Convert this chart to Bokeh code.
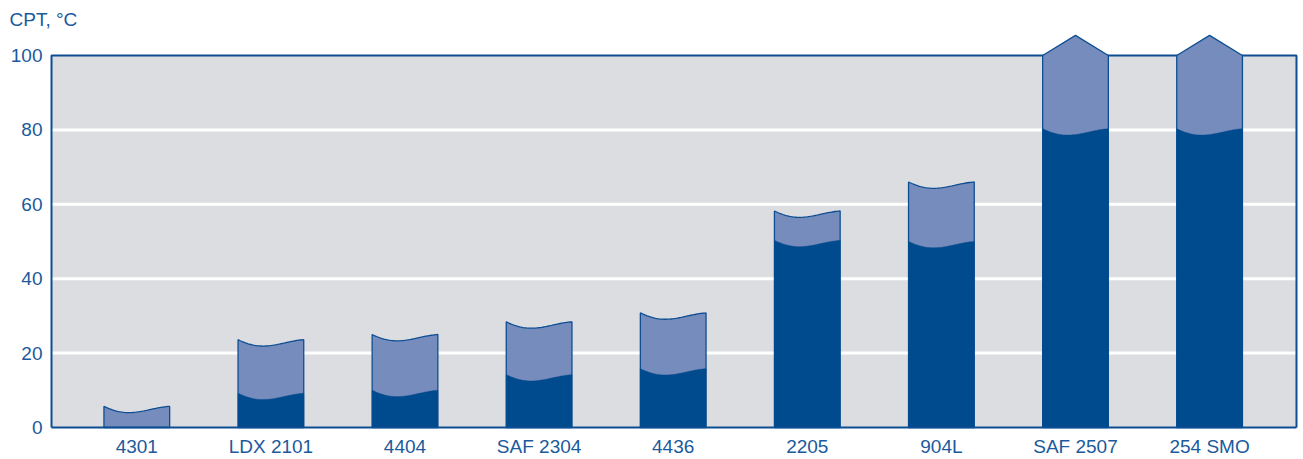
import numpy as np
from bokeh.plotting import figure
from bokeh.models import FixedTicker, Range1d
from bokeh.embed import file_html
from bokeh.resources import INLINE

# ---- data ----
grades = ["4301", "LDX 2101", "4404", "SAF 2304", "4436", "2205", "904L", "SAF 2507", "254 SMO"]
cpt_upper = [5.7, 23.6, 25.0, 28.4, 30.8, 58.2, 66.0, 100.0, 100.0]
cpt_lower = [0.0, 9.2, 10.0, 14.2, 15.8, 50.3, 50.0, 80.3, 80.3]
exceeds = [False, False, False, False, False, False, False, True, True]
y_ticks = [0, 20, 40, 60, 80, 100]
y_title = "CPT, °C"

# ---- style ----
FONT = "Liberation Sans"
TXT = "#1b5a9b"
DARK = "#004b8d"
LIGHT = "#768cbd"
GREY = "#dcdde0"
EDGE = "#0d4e93"
BAR_W = 0.49
WAVE_A = 2.7
ARROW_H = 5.4
BOX_L, BOX_R = -0.636, 8.648
YMAX = y_ticks[-1]

p = figure(width=1303, height=459, output_backend="svg", toolbar_location=None,
           x_range=Range1d(-0.651, 8.663), y_range=Range1d(-0.54, 106.18),
           min_border_left=49, min_border_right=5, min_border_top=32, min_border_bottom=30,
           title=y_title)
p.outline_line_color = None
p.background_fill_color = "white"
p.border_fill_color = "white"
p.xgrid.visible = False
p.ygrid.visible = False

p.title.align = "left"
p.title.offset = -40
p.title.standoff = 6
p.title.text_font = FONT
p.title.text_font_size = "19px"
p.title.text_font_style = "normal"
p.title.text_color = TXT

# grey plotting box
p.quad(left=[BOX_L], right=[BOX_R], bottom=[0], top=[YMAX], fill_color=GREY, line_color=None)
# white grid lines
gy = [t for t in y_ticks if 0 < t < YMAX]
p.segment(x0=[BOX_L] * len(gy), x1=[BOX_R] * len(gy), y0=gy, y1=gy, line_color="white", line_width=3)
# box border (left, top, right)
p.line(x=[BOX_L, BOX_L, BOX_R, BOX_R], y=[0, YMAX, YMAX, 0], line_color=EDGE, line_width=2)


def wave(c, v):
    t = np.linspace(0, 1, 40)
    xs = c - BAR_W / 2 + BAR_W * t
    ys = v - WAVE_A * np.sin(np.pi * t) * (1 - 0.844 * t)
    return list(xs), list(ys)


lxs, lys, dxs, dys = [], [], [], []
for i, (u, lo, ex) in enumerate(zip(cpt_upper, cpt_lower, exceeds)):
    xl, xr = i - BAR_W / 2, i + BAR_W / 2
    if ex:
        lxs.append([xl, xl, i, xr, xr])
        lys.append([0, u, u + ARROW_H, u, 0])
    else:
        wx, wy = wave(i, u)
        lxs.append([xl] + wx + [xr])
        lys.append([0] + wy + [0])
    if lo > 0:
        wx, wy = wave(i, lo)
        dxs.append([xl] + wx + [xr])
        dys.append([0] + wy + [0])

p.patches(xs=lxs, ys=lys, fill_color=LIGHT, line_color=EDGE, line_width=1.3)
p.patches(xs=dxs, ys=dys, fill_color=DARK, line_color=DARK, line_width=0.5)

# bottom border
p.line(x=[BOX_L, BOX_R], y=[0, 0], line_color=EDGE, line_width=2)

# axes
for ax in (p.xaxis[0], p.yaxis[0]):
    ax.axis_line_color = None
    ax.major_tick_line_color = None
    ax.minor_tick_line_color = None
    ax.major_tick_out = 0
    ax.major_tick_in = 0
    ax.minor_tick_out = 0
    ax.minor_tick_in = 0
    ax.major_label_text_font = FONT
    ax.major_label_text_color = TXT
    ax.major_label_text_font_size = "19px"

p.yaxis.ticker = FixedTicker(ticks=y_ticks)
p.yaxis.major_label_standoff = 7
p.xaxis.ticker = FixedTicker(ticks=list(range(len(grades))))
p.xaxis.major_label_overrides = {i: g for i, g in enumerate(grades)}
p.xaxis.major_label_standoff = 6

open("out.html", "w").write(file_html(p, INLINE))
